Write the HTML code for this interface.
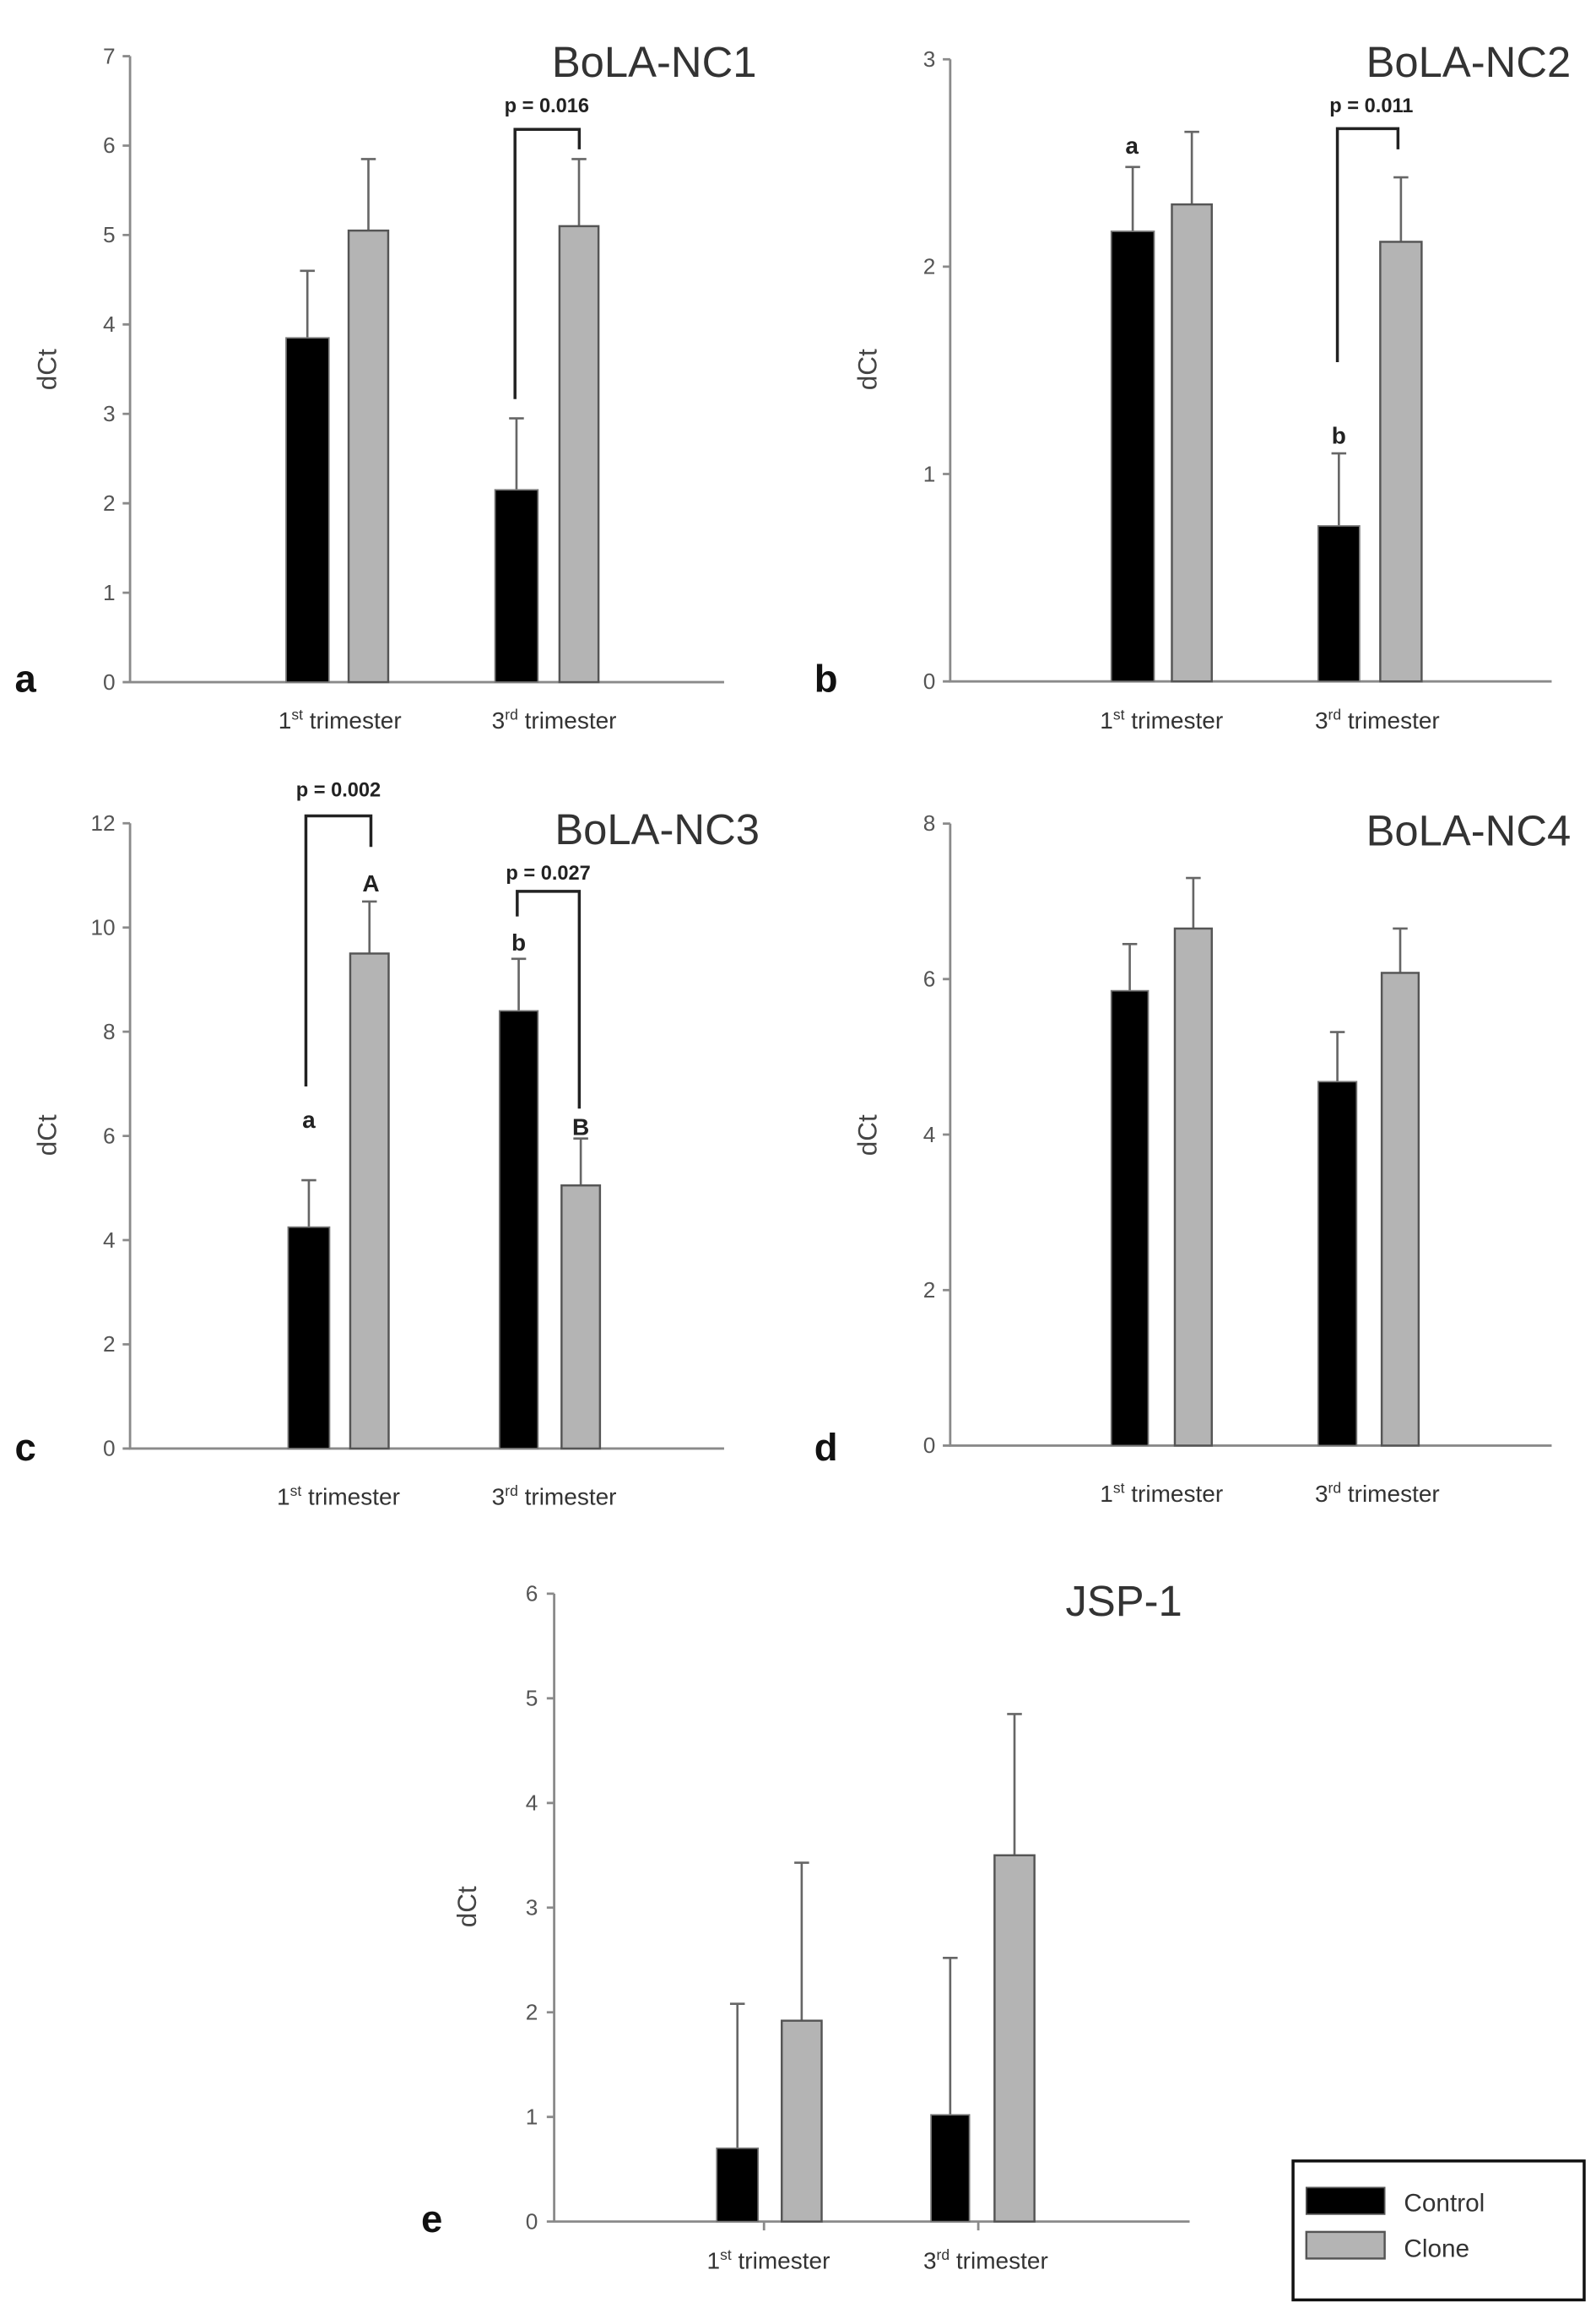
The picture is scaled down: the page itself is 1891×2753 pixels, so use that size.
<!DOCTYPE html>
<html><head><meta charset="utf-8"><style>
html,body{margin:0;padding:0;background:#fff;}
svg{display:block;}
text{font-family:"Liberation Sans",Arial,sans-serif;}
.t{font-size:15px;fill:#555;text-anchor:end;}
.ax{stroke:#8a8a8a;stroke-width:1.6;fill:none;}
.bk{fill:#000;stroke:#777;stroke-width:1;}
.gr{fill:#b4b4b4;stroke:#555;stroke-width:1.4;}
.eb{stroke:#666;stroke-width:1.5;fill:none;}
.br{stroke:#222;stroke-width:2;fill:none;}
.ttl{font-size:29px;fill:#333;text-anchor:end;}
.p{font-size:13.5px;font-weight:bold;fill:#222;text-anchor:middle;}
.lt{font-size:16px;font-weight:bold;fill:#222;text-anchor:middle;}
.pl{font-size:26px;font-weight:bold;fill:#111;}
.xl{font-size:16px;fill:#333;text-anchor:middle;}
.yl{font-size:18px;fill:#444;text-anchor:middle;}
</style></head><body>
<svg width="1891" height="2753" viewBox="0 0 1080 1572.3" xmlns="http://www.w3.org/2000/svg">

<!-- Panel a -->
<g>
<path class="ax" d="M88 38V461.5H490"/>
<path class="ax" d="M83 38H88M83 98.5H88M83 159H88M83 219.5H88M83 280H88M83 340.5H88M83 401H88M83 461.5H88"/>
<text class="t" x="78" y="43">7</text><text class="t" x="78" y="103.5">6</text><text class="t" x="78" y="164">5</text><text class="t" x="78" y="224.5">4</text><text class="t" x="78" y="285">3</text><text class="t" x="78" y="345.5">2</text><text class="t" x="78" y="406">1</text><text class="t" x="78" y="466.5">0</text>
<text class="yl" transform="translate(38 250) rotate(-90)">dCt</text>
<text class="pl" x="10" y="468">a</text>
<text class="ttl" x="512" y="52">BoLA-NC1</text>
<path class="eb" d="M208 228.6V183.2M203 183.2H213M249.3 156V107.6M244.3 107.6H254.3M349.5 331.4V283M344.5 283H354.5M391.8 153V107.6M386.8 107.6H396.8"/>
<rect class="bk" x="193.6" y="228.6" width="29" height="232.9"/>
<rect class="gr" x="235.9" y="156" width="26.8" height="305.5"/>
<rect class="bk" x="335" y="331.4" width="29" height="130.1"/>
<rect class="gr" x="378.6" y="153" width="26.4" height="308.5"/>
<text class="p" x="370" y="76">p = 0.016</text>
<path class="br" d="M348.5 270V87.5H392V101"/>
<text class="xl" x="230" y="493">1<tspan font-size="10" dy="-6">st</tspan><tspan dy="6"> trimester</tspan></text>
<text class="xl" x="375" y="493">3<tspan font-size="10" dy="-6">rd</tspan><tspan dy="6"> trimester</tspan></text>
</g>

<!-- Panel b -->
<g>
<path class="ax" d="M643 40.1V461H1050"/>
<path class="ax" d="M638 40.1H643M638 180.4H643M638 320.7H643M638 461H643"/>
<text class="t" x="633" y="45">3</text><text class="t" x="633" y="185.4">2</text><text class="t" x="633" y="325.7">1</text><text class="t" x="633" y="466">0</text>
<text class="yl" transform="translate(593 250) rotate(-90)">dCt</text>
<text class="pl" x="551" y="468">b</text>
<text class="ttl" x="1063" y="52">BoLA-NC2</text>
<path class="eb" d="M766.5 156.5V113M761.5 113H771.5M806.5 138.3V89.2M801.5 89.2H811.5M906 355.8V306.7M901 306.7H911M948 163.6V120M943 120H953"/>
<rect class="bk" x="752" y="156.5" width="29" height="304.5"/>
<rect class="gr" x="793" y="138.3" width="27" height="322.7"/>
<rect class="bk" x="892" y="355.8" width="28" height="105.2"/>
<rect class="gr" x="934" y="163.6" width="28" height="297.4"/>
<text class="p" x="928" y="76">p = 0.011</text>
<path class="br" d="M905 245V87H946V101"/>
<text class="lt" x="766" y="104" font-size="19">a</text>
<text class="lt" x="906" y="300" font-size="19">b</text>
<text class="xl" x="786" y="493">1<tspan font-size="10" dy="-6">st</tspan><tspan dy="6"> trimester</tspan></text>
<text class="xl" x="932" y="493">3<tspan font-size="10" dy="-6">rd</tspan><tspan dy="6"> trimester</tspan></text>
</g>

<!-- Panel c -->
<g>
<path class="ax" d="M88 557V980H490"/>
<path class="ax" d="M83 557H88M83 627.5H88M83 698H88M83 768.5H88M83 839H88M83 909.5H88M83 980H88"/>
<text class="t" x="78" y="562">12</text><text class="t" x="78" y="632.5">10</text><text class="t" x="78" y="703">8</text><text class="t" x="78" y="773.5">6</text><text class="t" x="78" y="844">4</text><text class="t" x="78" y="914.5">2</text><text class="t" x="78" y="985">0</text>
<text class="yl" transform="translate(38 768) rotate(-90)">dCt</text>
<text class="pl" x="10" y="988">c</text>
<text class="ttl" x="514" y="571">BoLA-NC3</text>
<path class="eb" d="M209 830.2V798.5M204 798.5H214M250 645.1V609.9M245 609.9H255M351 683.9V648.7M346 648.7H356M393 802V770.3M388 770.3H398"/>
<rect class="bk" x="195" y="830.2" width="28" height="149.8"/>
<rect class="gr" x="237" y="645.1" width="26" height="334.9"/>
<rect class="bk" x="338" y="683.9" width="26" height="296.1"/>
<rect class="gr" x="380" y="802" width="26" height="178"/>
<text class="p" x="229" y="539">p = 0.002</text>
<path class="br" d="M207 735V552H251V573"/>
<text class="p" x="371" y="595">p = 0.027</text>
<path class="br" d="M350 620V603H392V750"/>
<text class="lt" x="209" y="763" font-size="19">a</text>
<text class="lt" x="251" y="603" font-size="19">A</text>
<text class="lt" x="351" y="643" font-size="19">b</text>
<text class="lt" x="393" y="768" font-size="19">B</text>
<text class="xl" x="229" y="1018">1<tspan font-size="10" dy="-6">st</tspan><tspan dy="6"> trimester</tspan></text>
<text class="xl" x="375" y="1018">3<tspan font-size="10" dy="-6">rd</tspan><tspan dy="6"> trimester</tspan></text>
</g>

<!-- Panel d -->
<g>
<path class="ax" d="M643 557.2V978H1050"/>
<path class="ax" d="M638 557.2H643M638 662.4H643M638 767.6H643M638 872.8H643M638 978H643"/>
<text class="t" x="633" y="562">8</text><text class="t" x="633" y="667.4">6</text><text class="t" x="633" y="772.6">4</text><text class="t" x="633" y="877.8">2</text><text class="t" x="633" y="983">0</text>
<text class="yl" transform="translate(593 768) rotate(-90)">dCt</text>
<text class="pl" x="551" y="988">d</text>
<text class="ttl" x="1063" y="572">BoLA-NC4</text>
<path class="eb" d="M764.5 670.3V638.7M759.5 638.7H769.5M807.5 628.2V594M802.5 594H812.5M905 731.8V698.2M900 698.2H910M947.5 658.2V628.2M942.5 628.2H952.5"/>
<rect class="bk" x="752" y="670.3" width="25" height="307.7"/>
<rect class="gr" x="795" y="628.2" width="25" height="349.8"/>
<rect class="bk" x="892" y="731.8" width="26" height="246.2"/>
<rect class="gr" x="935" y="658.2" width="25" height="319.8"/>
<text class="xl" x="786" y="1016">1<tspan font-size="10" dy="-6">st</tspan><tspan dy="6"> trimester</tspan></text>
<text class="xl" x="932" y="1016">3<tspan font-size="10" dy="-6">rd</tspan><tspan dy="6"> trimester</tspan></text>
</g>

<!-- Panel e -->
<g>
<path class="ax" d="M375 1078.2V1503H805"/>
<path class="ax" d="M370 1078.2H375M370 1149H375M370 1219.8H375M370 1290.6H375M370 1361.4H375M370 1432.2H375M370 1503H375M517 1503V1509M662 1503V1509"/>
<text class="t" x="364" y="1083">6</text><text class="t" x="364" y="1154">5</text><text class="t" x="364" y="1224.8">4</text><text class="t" x="364" y="1295.6">3</text><text class="t" x="364" y="1366.4">2</text><text class="t" x="364" y="1437.2">1</text><text class="t" x="364" y="1508">0</text>
<text class="yl" transform="translate(322 1290) rotate(-90)">dCt</text>
<text class="pl" x="285" y="1510">e</text>
<text class="ttl" x="800" y="1093">JSP-1</text>
<path class="eb" d="M499 1453.4V1355.7M494 1355.7H504M542.5 1367.1V1260.2M537.5 1260.2H547.5M643 1430.8V1324.6M638 1324.6H648M686.5 1255.2V1159.6M681.5 1159.6H691.5"/>
<rect class="bk" x="485" y="1453.4" width="28" height="49.6"/>
<rect class="gr" x="529" y="1367.1" width="27" height="135.9"/>
<rect class="bk" x="630" y="1430.8" width="26" height="72.2"/>
<rect class="gr" x="673" y="1255.2" width="27" height="247.8"/>
<text class="xl" x="520" y="1535">1<tspan font-size="10" dy="-6">st</tspan><tspan dy="6"> trimester</tspan></text>
<text class="xl" x="667" y="1535">3<tspan font-size="10" dy="-6">rd</tspan><tspan dy="6"> trimester</tspan></text>
</g>

<!-- Legend -->
<g>
<rect x="875" y="1462" width="197" height="94" fill="#fff" stroke="#111" stroke-width="2"/>
<rect x="884" y="1480" width="53" height="18" fill="#000" stroke="#555" stroke-width="1"/>
<text x="950" y="1496" font-size="17" fill="#333">Control</text>
<rect x="884" y="1510" width="53" height="18" fill="#b4b4b4" stroke="#555" stroke-width="1.4"/>
<text x="950" y="1527" font-size="17" fill="#333">Clone</text>
</g>
</svg>
</body></html>
